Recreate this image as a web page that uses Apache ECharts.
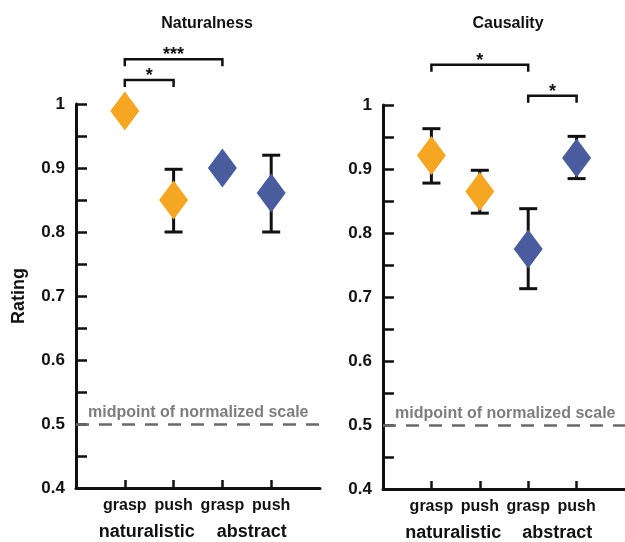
<!DOCTYPE html>
<html>
<head>
<meta charset="utf-8">
<script src="https://cdn.jsdelivr.net/npm/echarts@6/dist/echarts.min.js"></script>
<style>
  html, body { margin: 0; padding: 0; background: #fff; }
  #chart { width: 625px; height: 542px; }
</style>
</head>
<body>
<div id="chart"></div>
<script>
// conditions along x
const xPos = [1, 2, 3, 4];
const xLabels = ['grasp', 'push', 'grasp', 'push'];
const groupPos = [1.45, 3.6];
const groupLabels = ['naturalistic', 'abstract'];
const condColors = ['#F5A623', '#F5A623', '#4A5B9E', '#4A5B9E'];

// Naturalness
const natMean = [0.989, 0.850, 0.900, 0.861];
const natLow = [null, 0.800, null, 0.800];
const natHigh = [null, 0.898, null, 0.920];
// brackets: [x1, x2, y]
const natBrackets = [[1, 3, 1.070], [1, 2, 1.0375]];
const natStars = ['***', '*'];

// Causality
const causMean = [0.921, 0.865, 0.775, 0.917];
const causLow = [0.878, 0.831, 0.713, 0.885];
const causHigh = [0.963, 0.898, 0.838, 0.951];
const causBrackets = [[1, 3, 1.063], [3, 4, 1.0145]];
const causStars = ['*', '*'];

const midpoint = 0.5;

const FONT = '"Liberation Sans", Arial, sans-serif';
const INK = '#111';

let chart = echarts.init(document.getElementById('chart'));

function makeX(idx) {
    return {
        type: 'value', gridIndex: idx, min: 0, max: 5, interval: 1,
        axisLine: { lineStyle: { color: INK, width: 3 } },
        axisTick: { inside: true, length: 8, lineStyle: { color: INK, width: 2.5 }, customValues: xPos },
        axisLabel: {
            customValues: xPos, margin: 10,
            color: INK, fontFamily: FONT, fontWeight: 'bold', fontSize: 16,
            formatter: (v) => xLabels[Math.round(v) - 1] || ''
        },
        splitLine: { show: false }
    };
}

function makeY(idx, name) {
    return {
        type: 'value', gridIndex: idx, min: 0.4, max: 1, interval: 0.05,
        name: name, nameLocation: 'middle', nameRotate: 90, nameGap: 48,
        nameTextStyle: { color: INK, fontFamily: FONT, fontWeight: 'bold', fontSize: 18 },
        axisLine: { show: true, lineStyle: { color: INK, width: 3 } },
        axisTick: { inside: true, length: 11, lineStyle: { color: INK, width: 2.5 } },
        axisLabel: {
            margin: 11, color: INK, fontFamily: FONT, fontWeight: 'bold', fontSize: 17,
            formatter: (v) => {
                let r = Math.round(v * 100);
                return r % 10 === 0 ? String(r / 100) : '';
            }
        },
        splitLine: { show: false }
    };
}

function meanSeries(idx, means) {
    return {
        type: 'scatter', xAxisIndex: idx, yAxisIndex: idx, z: 4,
        symbol: 'diamond', symbolSize: [29, 39],
        data: xPos.map((x, i) => ({ value: [x, means[i]], itemStyle: { color: condColors[i], opacity: 1 } })),
        markLine: {
            silent: true, symbol: 'none',
            lineStyle: { color: '#6a6a6a', width: 2.5, type: [13, 10] },
            label: {
                show: true, position: 'insideStartTop', distance: [12, 3],
                formatter: 'midpoint of normalized scale',
                color: '#7d7d7d', fontFamily: FONT, fontWeight: 'bold', fontSize: 16
            },
            data: [{ yAxis: midpoint }]
        }
    };
}

function errorSeries(idx, low, high) {
    let data = [];
    xPos.forEach((x, i) => { if (low[i] != null) data.push([x, low[i], high[i]]); });
    return {
        type: 'custom', xAxisIndex: idx, yAxisIndex: idx, z: 2, clip: false,
        data: data,
        renderItem: (params, api) => {
            let x = api.value(0);
            let lo = api.coord([x, api.value(1)]);
            let hi = api.coord([x, api.value(2)]);
            let w = 9, st = { stroke: INK, lineWidth: 3 };
            return {
                type: 'group', children: [
                    { type: 'line', shape: { x1: lo[0], y1: lo[1], x2: hi[0], y2: hi[1] }, style: st },
                    { type: 'line', shape: { x1: hi[0] - w, y1: hi[1], x2: hi[0] + w, y2: hi[1] }, style: st },
                    { type: 'line', shape: { x1: lo[0] - w, y1: lo[1], x2: lo[0] + w, y2: lo[1] }, style: st }
                ]
            };
        }
    };
}

function bracketSeries(idx, brackets, stars) {
    return {
        type: 'custom', xAxisIndex: idx, yAxisIndex: idx, z: 3, clip: false,
        data: brackets,
        renderItem: (params, api) => {
            let a = api.coord([api.value(0), api.value(2)]);
            let b = api.coord([api.value(1), api.value(2)]);
            let d = 7;
            return {
                type: 'group', children: [
                    { type: 'polyline', shape: { points: [[a[0], a[1] + d], a, b, [b[0], b[1] + d]] },
                      style: { stroke: INK, lineWidth: 2.5, fill: null } },
                    { type: 'text', x: (a[0] + b[0]) / 2, y: a[1] - 4,
                      style: { text: stars[params.dataIndex], fill: INK, font: 'bold 18px ' + FONT,
                               align: 'center', verticalAlign: 'middle' } }
                ]
            };
        }
    };
}

function groupSeries(idx) {
    return {
        type: 'custom', xAxisIndex: idx, yAxisIndex: idx, z: 3, clip: false,
        data: groupPos.map((x) => [x, 0.4]),
        renderItem: (params, api) => {
            let p = api.coord([api.value(0), api.value(1)]);
            return {
                type: 'text', x: p[0], y: p[1] + 44,
                style: { text: groupLabels[params.dataIndex], fill: INK, font: 'bold 18px ' + FONT,
                         align: 'center', verticalAlign: 'middle' }
            };
        }
    };
}

let option = {
    backgroundColor: '#fff',
    animation: false,
    title: [
        { text: 'Naturalness', left: 202, top: 11, textAlign: 'center',
          textStyle: { color: INK, fontFamily: FONT, fontWeight: 'bold', fontSize: 16 } },
        { text: 'Causality', left: 503, top: 11, textAlign: 'center',
          textStyle: { color: INK, fontFamily: FONT, fontWeight: 'bold', fontSize: 16 } }
    ],
    grid: [
        { left: 76, top: 104, width: 244, height: 384 },
        { left: 383, top: 105, width: 244, height: 384 }
    ],
    xAxis: [makeX(0), makeX(1)],
    yAxis: [makeY(0, 'Rating'), makeY(1, '')],
    series: [
        errorSeries(0, natLow, natHigh),
        meanSeries(0, natMean),
        bracketSeries(0, natBrackets, natStars),
        groupSeries(0),
        errorSeries(1, causLow, causHigh),
        meanSeries(1, causMean),
        bracketSeries(1, causBrackets, causStars),
        groupSeries(1)
    ]
};
chart.setOption(option);
</script>
</body>
</html>
